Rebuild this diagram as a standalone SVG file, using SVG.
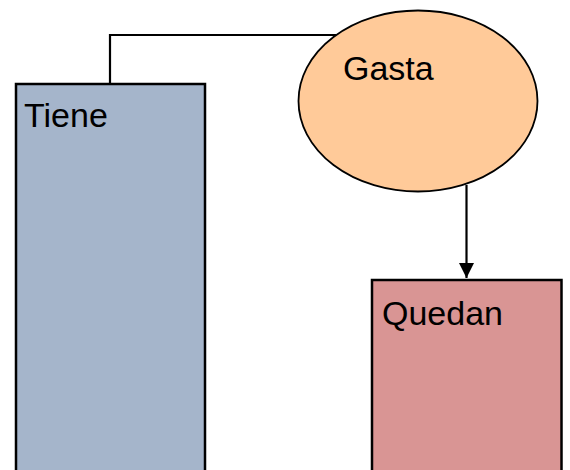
<svg xmlns="http://www.w3.org/2000/svg" width="570" height="470" viewBox="0 0 570 470">
<defs>
<style>
.box{stroke:#000;stroke-width:2.5}
.lbl{font-family:"Liberation Sans",Arial,sans-serif;font-size:34px;fill:#000}
.con{fill:none;stroke:#000;stroke-width:2.2}
</style>
<marker id="arr" viewBox="0 0 10 10" refX="10" refY="5" markerWidth="15" markerHeight="15" markerUnits="userSpaceOnUse" orient="auto">
<path d="M0,0 L10,5 L0,10 Z" fill="#000"/>
</marker>
</defs>
<rect width="570" height="470" fill="#fff"/>
<g id="connectors">
<path class="con" d="M110,84 V35 H336"/>
<path class="con" d="M466.5,185 V278" marker-end="url(#arr)"/>
</g>
<g id="tiene">
<rect class="box" x="16" y="84" width="189" height="400" fill="#A5B5CB"/>
<text class="lbl" x="24" y="127">Tiene</text>
</g>
<g id="gasta">
<ellipse cx="418" cy="101" rx="119.5" ry="90.5" fill="#FFCA99" stroke="#000" stroke-width="1.8"/>
<text class="lbl" x="343" y="80">Gasta</text>
</g>
<g id="quedan">
<rect class="box" x="372" y="280" width="189.5" height="200" fill="#D99594"/>
<text class="lbl" x="382" y="325">Quedan</text>
</g>
</svg>
